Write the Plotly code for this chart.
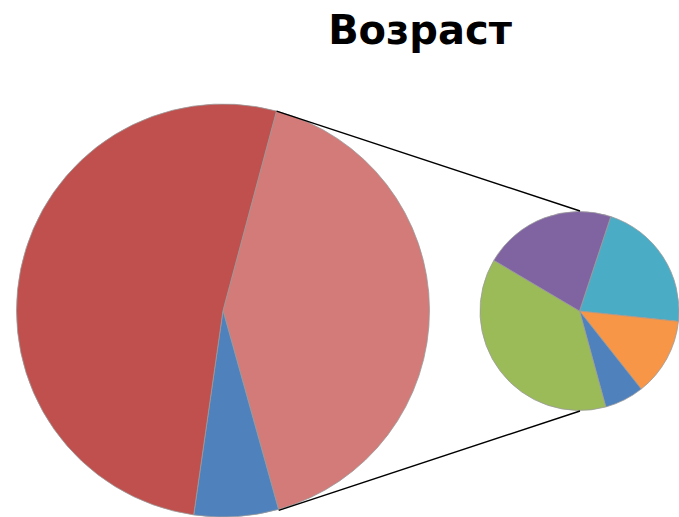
import math
import plotly.graph_objects as go

W, H = 679, 517

# Main pie (clockwise from the pink "other" slice)
main_labels = ["Другое", "Синий", "Красный"]
main_values = [41.5, 6.6, 51.9]
main_colors = ["#D27B79", "#4F81BD", "#C0504D"]
main_rotation = 15.0

# Secondary pie (breakdown), clockwise
sub_labels = ["A", "B", "C", "D", "E"]
sub_values = [21.6, 12.7, 6.4, 37.8, 21.6]
sub_colors = ["#4BACC6", "#F79646", "#4F81BD", "#9BBB59", "#8064A2"]
sub_rotation = 18.3

# geometry (window pixels)
cx1, cy1, r1 = 223, 311, 207
cx2, cy2, r2 = 580, 311, 100


def px(x):
    return x / W


def py(y):
    return 1 - y / H


def dom(cx, cy, r):
    return dict(x=[max(0, px(cx - r)), min(1, px(cx + r))],
                y=[max(0, py(cy + r)), min(1, py(cy - r))])


fig = go.Figure()
fig.add_trace(go.Pie(labels=main_labels, values=main_values, sort=False,
                     direction="clockwise", rotation=main_rotation,
                     marker=dict(colors=main_colors, line=dict(color="#9a9a9a", width=0.8)),
                     textinfo="none", hoverinfo="label+percent",
                     domain=dom(cx1, cy1, r1), showlegend=False))
fig.add_trace(go.Pie(labels=sub_labels, values=sub_values, sort=False,
                     direction="clockwise", rotation=sub_rotation,
                     marker=dict(colors=sub_colors, line=dict(color="#9a9a9a", width=0.8)),
                     textinfo="none", hoverinfo="label+percent",
                     domain=dom(cx2, cy2, r2), showlegend=False))

# connector lines: edges of the "other" slice to top/bottom of secondary pie
a0 = math.radians(main_rotation)
a1 = math.radians(main_rotation + main_values[0] / sum(main_values) * 360)
pts = [((cx1 + r1 * math.sin(a0), cy1 - r1 * math.cos(a0)), (cx2, cy2 - r2)),
       ((cx1 + r1 * math.sin(a1), cy1 - r1 * math.cos(a1)), (cx2, cy2 + r2))]
for (x0, y0), (x1, y1) in pts:
    fig.add_shape(type="line", xref="paper", yref="paper",
                  x0=px(x0), y0=py(y0), x1=px(x1), y1=py(y1),
                  line=dict(color="black", width=1.4))

fig.update_layout(
    width=W, height=H,
    margin=dict(l=0, r=0, t=0, b=0),
    paper_bgcolor="white", plot_bgcolor="white",
    title=dict(text="<b>Возраст</b>", x=px(420), xanchor="center",
               y=py(30), yanchor="middle", yref="container",
               font=dict(family="DejaVu Sans", size=40, color="black")),
)
fig.write_html("out.html", config={"displayModeBar": False},
               post_script="document.body.style.margin='0';document.body.style.overflow='hidden';")
